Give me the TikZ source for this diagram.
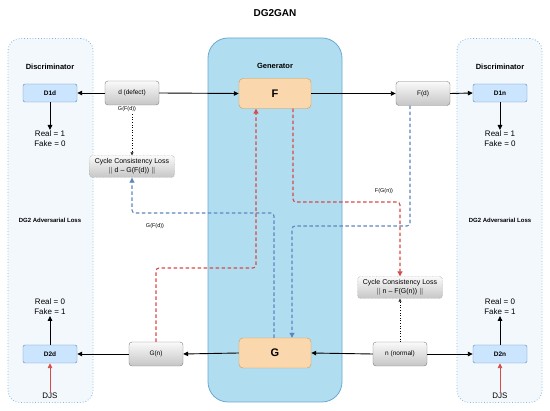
\documentclass[tikz,border=0pt]{standalone}
\usepackage{fontspec}
\setmainfont{Liberation Sans}
\usetikzlibrary{arrows.meta,calc}
\definecolor{contfill}{HTML}{F3F8FD}
\definecolor{contdraw}{HTML}{7DB7E6}
\definecolor{genfill}{HTML}{B1DDF0}
\definecolor{gendraw}{HTML}{6AA9D2}
\definecolor{discfill}{HTML}{CCE5FF}
\definecolor{discdraw}{HTML}{5D86B5}
\definecolor{fgfill}{HTML}{FAD7AC}
\definecolor{fgdraw}{HTML}{D29B4E}
\definecolor{reddash}{HTML}{D64B46}
\definecolor{bluedash}{HTML}{5F86C0}
\definecolor{boxdraw}{HTML}{7F7F7F}
\begin{document}
\begin{tikzpicture}[x=1pt,y=-1pt,
  container/.style={draw=contdraw, dotted, line width=0.8pt, fill=contfill, rounded corners=12pt, inner sep=0pt},
  genbox/.style={draw=gendraw, line width=0.8pt, fill=genfill, rounded corners=20pt, inner sep=0pt},
  discbox/.style={draw=discdraw, fill=discfill, rounded corners=2pt, minimum width=54pt, minimum height=18pt, inner sep=0pt, font=\fontsize{6.5}{7}\selectfont\bfseries},
  graybox/.style={draw=boxdraw, top color=gray!4, bottom color=gray!45, rounded corners=3pt, minimum width=54pt, minimum height=24pt, inner sep=0pt, font=\fontsize{6.5}{7}\selectfont},
  cycbox/.style={draw=boxdraw, densely dotted, top color=gray!4, bottom color=gray!45, rounded corners=3pt, minimum width=85pt, minimum height=22pt, inner sep=0pt, align=center, font=\fontsize{7}{8.5}\selectfont},
  fgbox/.style={draw=fgdraw, fill=fgfill, rounded corners=4pt, minimum width=72pt, minimum height=30pt, inner sep=0pt, font=\fontsize{11}{12}\selectfont\bfseries},
  heading/.style={font=\fontsize{7.5}{8}\selectfont\bfseries, inner sep=0pt},
  advlabel/.style={font=\fontsize{6}{7}\selectfont\bfseries, inner sep=0pt},
  result/.style={align=center, font=\fontsize{8}{10}\selectfont, inner sep=1pt},
  small/.style={font=\fontsize{5.5}{6}\selectfont, inner sep=0pt},
  solidarrow/.style={line width=0.9pt, -{Triangle[length=5pt,width=4.5pt]}},
  dotarrow/.style={dotted, line width=0.6pt, -{Triangle[open,length=3pt,width=3pt]}},
  redarrow/.style={draw=reddash, line width=1.1pt, dash pattern=on 3.5pt off 2.5pt, rounded corners=3pt, -{Triangle[length=5pt,width=5pt]}},
  bluearrow/.style={draw=bluedash, line width=1.1pt, dash pattern=on 3.5pt off 2.5pt, rounded corners=3pt, -{Triangle[length=5pt,width=5pt]}},
  redsolid/.style={draw=reddash, line width=0.9pt, -{Triangle[length=5pt,width=4.5pt]}}
]
\useasboundingbox (0,0) rectangle (550,411);
\fill[white] (0,0) rectangle (550,411);

% title
\node[font=\fontsize{10}{12}\selectfont\bfseries] (title) at (275,13) {DG2GAN};

% containers
\node[container, minimum width=85pt, minimum height=364pt] (contL) at (50.5,220.5) {};
\node[container, minimum width=85pt, minimum height=364pt] (contR) at (499.5,220.5) {};
\node[genbox, minimum width=134pt, minimum height=364pt] (contG) at (275,220) {};

\node[heading] (discLtitle) at (50,67) {Discriminator};
\node[heading] (discRtitle) at (500,67) {Discriminator};
\node[heading] (gentitle) at (275,66) {Generator};
\node[advlabel] (advL) at (50,220) {DG2 Adversarial Loss};
\node[advlabel] (advR) at (500,220) {DG2 Adversarial Loss};

% top row
\node[discbox] (D1d) at (50,93) {D1d};
\node[graybox] (d) at (132,93) {d (defect)};
\node[fgbox] (F) at (275,93.5) {F};
\node[graybox] (Fd) at (423,93.5) {F(d)};
\node[discbox] (D1n) at (500,93) {D1n};

% bottom row
\node[discbox] (D2d) at (50,354) {D2d};
\node[graybox] (Gn) at (156,354) {G(n)};
\node[fgbox] (G) at (275,353) {G};
\node[graybox] (n) at (400,354) {n (normal)};
\node[discbox] (D2n) at (500,354) {D2n};

% results
\node[result, anchor=north] (res1) at (50,130) {Real = 1\\Fake = 0};
\node[result, anchor=north] (res2) at (500,130) {Real = 1\\Fake = 0};
\node[result, anchor=south] (res3) at (50,316) {Real = 0\\Fake = 1};
\node[result, anchor=south] (res4) at (500,316) {Real = 0\\Fake = 1};
\node[font=\fontsize{8}{10}\selectfont, inner sep=1pt] (djsL) at (50,396) {DJS};
\node[font=\fontsize{8}{10}\selectfont, inner sep=1pt] (djsR) at (500,396) {DJS};

% cycle boxes
\node[cycbox] (cyc1) at (132,166.5) {Cycle Consistency Loss\\$\Vert$ d – G(F(d)) $\Vert$};
\node[cycbox] (cyc2) at (400,287.5) {Cycle Consistency Loss\\$\Vert$ n – F(G(n)) $\Vert$};

% small labels
\node[small] (lab1) at (127,109.5) {G(F(d))};
\node[small] (lab2) at (155,226) {G(F(d))};
\node[small] (lab3) at (384,191) {F(G(n))};

% solid connectors
\draw[solidarrow] (d.west) -- (D1d.east);
\draw[solidarrow] (d.east) -- (F.west);
\draw[solidarrow] (F.east) -- (Fd.west);
\draw[solidarrow] (Fd.east) -- (D1n.west);
\draw[solidarrow] (D1d.south) -- (res1.north);
\draw[solidarrow] (D1n.south) -- (res2.north);
\draw[solidarrow] (n.west) -- (G.east);
\draw[solidarrow] (n.east) -- (D2n.west);
\draw[solidarrow] (G.west) -- (Gn.east);
\draw[solidarrow] (Gn.west) -- (D2d.east);
\draw[solidarrow] (D2d.north) -- (res3.south);
\draw[solidarrow] (D2n.north) -- (res4.south);
\draw[redsolid] (djsL.north) -- (D2d.south);
\draw[redsolid] (djsR.north) -- (D2n.south);

% dotted connectors
\draw[dotarrow] ([yshift=-9pt]d.south) -- (cyc1.north);
\draw[dotarrow] (n.north) -- (cyc2.south);

% blue dashed
\coordinate (bc1) at (292,226);
\coordinate (bc2) at (132,213);
\draw[bluearrow] ([xshift=-13pt]Fd.south) |- (bc1) -- ([xshift=17pt]G.north);
\draw[bluearrow] ([xshift=-1pt]G.north) |- (bc2) -- (cyc1.south);

% red dashed
\coordinate (rc1) at (400,202);
\coordinate (rc2) at (256,268);
\draw[redarrow] ([xshift=18pt]F.south) |- (rc1) -- (cyc2.north);
\draw[redarrow] (Gn.north) |- (rc2) -- ([xshift=-19pt]F.south);
\end{tikzpicture}
\end{document}
